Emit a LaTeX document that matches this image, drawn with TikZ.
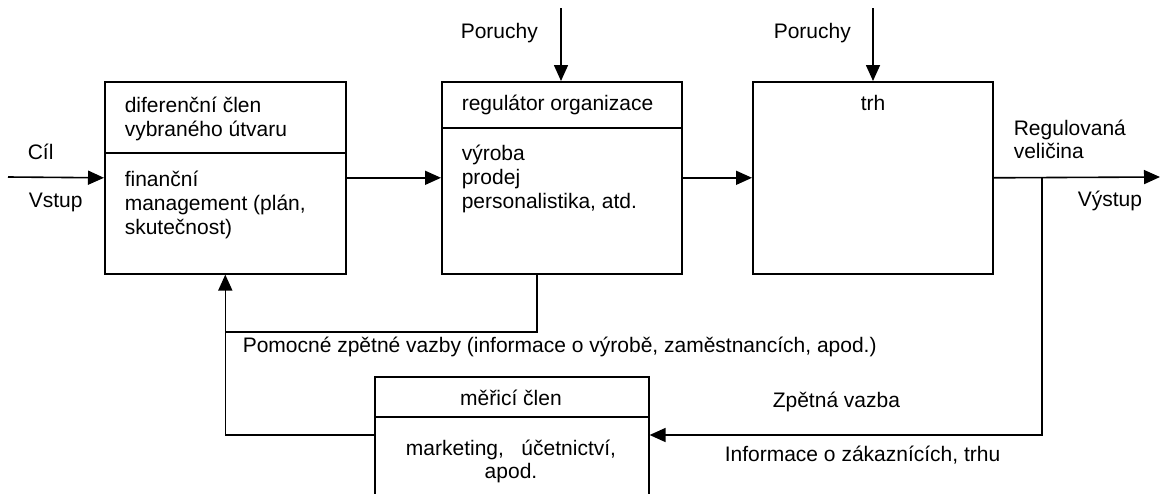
\documentclass[tikz,border=0pt]{standalone}
\usepackage{fontspec}
\setmainfont{Liberation Sans}
\usetikzlibrary{arrows.meta}
\begin{document}
\begin{tikzpicture}[x=1pt,y=-1pt,
  line width=1.6pt,
  box/.style={draw, rectangle, inner sep=0pt, anchor=north west},
  arr/.style={-{Triangle[length=16pt,width=14pt]}},
  lbl/.style={anchor=base west, inner sep=0pt, font=\fontsize{21}{24}\selectfont},
  clbl/.style={anchor=base, inner sep=0pt, font=\fontsize{21}{24}\selectfont}]
\useasboundingbox (0,0) rectangle (1162,493);
% boxes
\node[box, minimum width=241pt, minimum height=192pt] (b1) at (104,81) {};
\node[box, minimum width=240pt, minimum height=192pt] (b2) at (441,81) {};
\node[box, minimum width=240pt, minimum height=192pt] (b3) at (752,81) {};
\node[box, minimum width=274pt, minimum height=130pt] (b4) at (374,376) {};
% dividers
\draw (b1.west |- 0,153) -- (b1.east |- 0,153);
\draw (b2.west |- 0,128) -- (b2.east |- 0,128);
\draw (b4.west |- 0,417) -- (b4.east |- 0,417);
% box texts
\node[lbl] (t1a) at (124,112) {diferenční člen};
\node[lbl] (t1b) at (124,136) {vybraného útvaru};
\node[lbl] (t1c) at (124,186) {finanční};
\node[lbl] (t1d) at (124,210) {management (plán,};
\node[lbl] (t1e) at (124,234) {skutečnost)};
\node[lbl] (t2a) at (461,110) {regulátor organizace};
\node[lbl] (t2b) at (461,160) {výroba};
\node[lbl] (t2c) at (461,184) {prodej};
\node[lbl] (t2d) at (461,208) {personalistika, atd.};
\node[clbl] (t3) at (873,110) {trh};
\node[clbl] (t4a) at (511,405) {měřicí člen};
\node[clbl] (t4b) at (511,455) {marketing,\ \ \ účetnictví,};
\node[clbl] (t4c) at (511,478) {apod.};
% free labels
\node[lbl] (cil) at (27,159) {Cíl};
\node[lbl] (vstup) at (28,207) {Vstup};
\node[lbl] (por1) at (460,38) {Poruchy};
\node[lbl] (por2) at (773,38) {Poruchy};
\node[lbl] (reg1) at (1013,135) {Regulovaná};
\node[lbl] (reg2) at (1013,158) {veličina};
\node[lbl] (vystup) at (1077,206) {Výstup};
\node[lbl] (pom) at (242,352) {Pomocné zpětné vazby (informace o výrobě, zaměstnancích, apod.)};
\node[lbl] (zpv) at (772,407) {Zpětná vazba};
\node[lbl] (inf) at (724,461) {Informace o zákaznících, trhu};
% coordinates
\coordinate (in) at (8,177);
\coordinate (out) at (1160,177);
\coordinate (br) at (1042,177);
\coordinate (p1) at (561,8);
\coordinate (p2) at (873,8);
% connectors
\draw[arr] (in) -- (b1.west);
\draw[arr] (b1.east) -- (b2.west);
\draw[arr] (b2.east) -- (b3.west);
\draw[arr] (b3.east) -- (out);
\draw[arr] (p1) -- (p1 |- b2.north);
\draw[arr] (p2) -- (p2 |- b3.north);
\draw[arr] (br) -- (br |- 0,435) -- (b4.north east |- 0,435);
\draw[arr] (b4.north west |- 0,435) -| (b1.south);
\draw ([xshift=-25pt]b2.south) -- ([xshift=-25pt]b2.south |- 0,332) -- (b1.south |- 0,332);
\end{tikzpicture}
\end{document}
